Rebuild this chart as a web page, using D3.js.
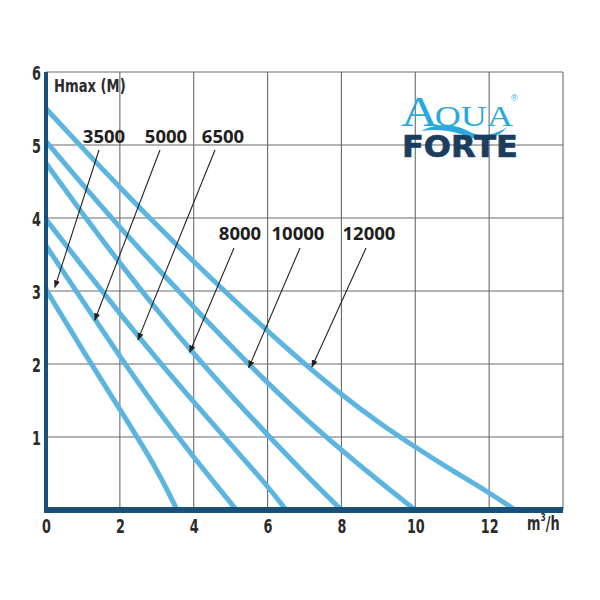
<!DOCTYPE html>
<html>
<head>
<meta charset="utf-8">
<script src="https://cdn.jsdelivr.net/npm/d3@7"></script>
<style>
  html, body { margin: 0; padding: 0; background: #fff; }
  svg { display: block; }
</style>
</head>
<body>
<svg id="chart" width="600" height="600"></svg>
<script>
// ---- data ----
const models = ["3500", "5000", "6500", "8000", "10000", "12000"];
const flow3500  = [0, 1, 2, 3, 3.55];
const head3500  = [3.02, 2.18, 1.38, 0.57, 0];
const flow5000  = [0, 1, 2, 3, 4, 5, 5.15];
const head5000  = [3.62, 2.86, 2.1, 1.38, 0.72, 0.1, 0];
const flow6500  = [0, 1, 2, 3, 4, 5, 6, 6.5];
const head6500  = [3.98, 3.33, 2.69, 2.07, 1.48, 0.9, 0.33, 0];
const flow8000  = [0, 1, 2, 3, 4, 5, 6, 7, 8];
const head8000  = [4.75, 4.05, 3.38, 2.74, 2.14, 1.57, 1.03, 0.5, 0];
const flow10000 = [0, 1, 2, 3, 4, 5, 6, 7, 8, 9, 10];
const head10000 = [5.05, 4.45, 3.87, 3.32, 2.78, 2.25, 1.74, 1.26, 0.82, 0.4, 0];
const flow12000 = [0, 1, 2, 3, 4, 5, 6, 7, 8, 9, 10, 11, 12, 12.7];
const head12000 = [5.5, 4.95, 4.42, 3.9, 3.4, 2.92, 2.45, 2.0, 1.58, 1.2, 0.86, 0.54, 0.24, 0];
// arrow target points on curves (flow, head)
const arrowFlow = [0.24, 1.32, 2.49, 3.89, 5.49, 7.2];
const arrowHead = [3.05, 2.6, 2.33, 2.16, 1.95, 1.96];
const xTicks = [0, 2, 4, 6, 8, 10, 12];
const yTicks = [1, 2, 3, 4, 5, 6];
const yTitle = "Hmax (M)";

const flows = [flow3500, flow5000, flow6500, flow8000, flow10000, flow12000];
const heads = [head3500, head5000, head6500, head8000, head10000, head12000];

// ---- layout ----
const svg = d3.select("#chart");
const x = d3.scaleLinear().domain([0, 14]).range([46, 563]);
const y = d3.scaleLinear().domain([0, 6]).range([510, 72]);
const numFont = "'DejaVu Sans', sans-serif";
const labelFont = "'Open Sans', 'Noto Sans', sans-serif";
const axisColor = "#17507a";
const curveColor = "#5bb5de";
const textColor = "#2b2b2b";

// grid
const grid = svg.append("g");
grid.selectAll("line.v").data(d3.range(2, 15, 2)).join("line")
  .attr("x1", d => x(d)).attr("x2", d => x(d))
  .attr("y1", y(6)).attr("y2", y(0))
  .attr("stroke", "#6a6a6a").attr("stroke-width", 1.1);
grid.selectAll("line.h").data(d3.range(1, 7)).join("line")
  .attr("x1", x(0)).attr("x2", x(14))
  .attr("y1", d => y(d)).attr("y2", d => y(d))
  .attr("stroke", "#6a6a6a").attr("stroke-width", 1.1);

// curves
const line = d3.line().x(d => x(d[0])).y(d => y(d[1])).curve(d3.curveBasis);
svg.append("g").selectAll("path").data(models.map((m, i) => flows[i].map((f, j) => [f, heads[i][j]])))
  .join("path")
  .attr("d", line)
  .attr("fill", "none")
  .attr("stroke", curveColor)
  .attr("stroke-width", 5)
  .attr("stroke-linecap", "butt");

// axes lines
svg.append("line").attr("x1", x(0)).attr("x2", x(0)).attr("y1", y(6)).attr("y2", y(0) + 3)
  .attr("stroke", axisColor).attr("stroke-width", 4);
svg.append("line").attr("x1", x(0) - 2).attr("x2", x(14)).attr("y1", y(0)).attr("y2", y(0))
  .attr("stroke", axisColor).attr("stroke-width", 6);

// tick labels via d3 axes (condensed look via horizontal scale)
const xAxis = svg.append("g").attr("transform", `translate(0,${y(0) + 5})`)
  .call(d3.axisBottom(x).tickValues(xTicks).tickSize(0).tickPadding(3).tickFormat(d3.format("d")));
const yAxis = svg.append("g").attr("transform", `translate(${x(0) - 5},0)`)
  .call(d3.axisLeft(y).tickValues(yTicks).tickSize(0).tickPadding(0).tickFormat(d3.format("d")));
[xAxis, yAxis].forEach(a => {
  a.select(".domain").remove();
  a.selectAll("text").attr("font-family", numFont).attr("font-weight", "bold")
    .attr("font-size", 20).attr("fill", textColor)
    .attr("transform", "scale(0.64,1)");
});
xAxis.selectAll("text").attr("dy", "0.75em");
yAxis.selectAll("text").attr("dy", "0.36em");

// units
const unit = svg.append("text").attr("transform", "translate(527,530) scale(0.68,1)")
  .attr("font-family", numFont).attr("font-weight", "bold")
  .attr("font-size", 19).attr("fill", textColor);
unit.append("tspan").text("m");
unit.append("tspan").text("3").attr("font-size", 11).attr("dy", -9);
unit.append("tspan").text("/h").attr("dy", 9);

// y title
svg.append("text").attr("transform", "translate(54,92) scale(0.73,1)").text(yTitle)
  .attr("font-family", numFont).attr("font-weight", "bold")
  .attr("font-size", 18).attr("fill", textColor);

// series labels + arrows
const labelPos = [[104, 143], [166, 143], [223, 143], [240, 240], [298, 240], [369, 240]];
const arrowStart = [[99, 150], [160, 150], [215, 150], [234, 248], [300, 248], [366, 248]];
const defs = svg.append("defs");
defs.append("marker").attr("id", "ah").attr("viewBox", "0 0 10 10").attr("refX", 9).attr("refY", 5)
  .attr("markerWidth", 7).attr("markerHeight", 7).attr("orient", "auto")
  .append("path").attr("d", "M0,1 L10,5 L0,9 Z").attr("fill", "#222");
const lab = svg.append("g");
models.forEach((m, i) => {
  lab.append("text").attr("x", labelPos[i][0]).attr("y", labelPos[i][1]).text(m)
    .attr("text-anchor", "middle").attr("font-family", labelFont).attr("font-weight", "bold")
    .attr("font-size", 18.5).attr("fill", "#1e1e1e").attr("letter-spacing", 0);
  lab.append("line").attr("x1", arrowStart[i][0]).attr("y1", arrowStart[i][1])
    .attr("x2", x(arrowFlow[i])).attr("y2", y(arrowHead[i]))
    .attr("stroke", "#222").attr("stroke-width", 1.1).attr("marker-end", "url(#ah)");
});

// logo
const logo = svg.append("g");
const aqua = logo.append("text").attr("x", 401).attr("y", 126)
  .attr("font-family", "'Liberation Serif', 'DejaVu Serif', serif").attr("fill", "#29a9dc")
  .attr("textLength", 112).attr("lengthAdjust", "spacingAndGlyphs");
aqua.append("tspan").text("A").attr("font-size", 43);
aqua.append("tspan").text("QUA").attr("font-size", 30).attr("dx", -3);
logo.append("text").attr("x", 511).attr("y", 101).text("®").attr("font-size", 9)
  .attr("font-family", "sans-serif").attr("fill", "#29a9dc");
logo.append("path").attr("d", "M421,131 C440,121 458,125 470,132 C482,138 497,134 507,127 C498,139 482,142 469,137 C457,132 440,128 421,131 Z")
  .attr("fill", "#29a9dc");
logo.append("text").attr("x", 402).attr("y", 157).text("FORTE")
  .attr("font-family", "'DejaVu Sans', sans-serif").attr("font-weight", "bold")
  .attr("font-size", 31).attr("fill", "#1b3e5e")
  .attr("stroke", "#1b3e5e").attr("stroke-width", 0.7)
  .attr("textLength", 116).attr("lengthAdjust", "spacingAndGlyphs");
</script>
</body>
</html>
